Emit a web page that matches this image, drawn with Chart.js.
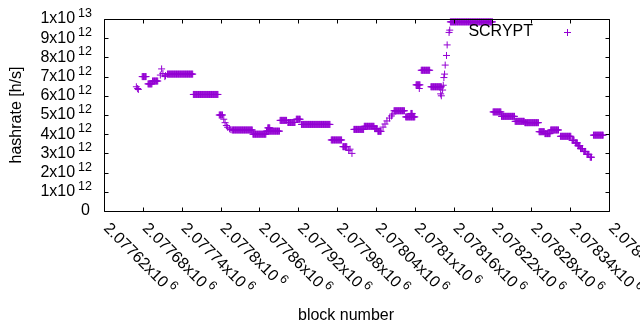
<!DOCTYPE html>
<html>
<head>
<meta charset="utf-8">
<script src="https://cdn.jsdelivr.net/npm/chart.js@4.4.0/dist/chart.umd.min.js"></script>
<style>
    html, body { margin: 0; padding: 0; background: #fff; }
    #wrap { width: 640px; height: 330px; }
</style>
</head>
<body>
<div id="wrap"><canvas id="graph" width="640" height="330"></canvas></div>
<script>
// hashrate: blocks [start .. end] at one value (x10^12 h/s)
const runStart = [2077670, 2077672, 2077673, 2077679, 2077688, 2077695, 2077707, 2077709, 2077711, 2077714,
    2077715, 2077718, 2077758, 2077798, 2077805, 2077807, 2077809, 2077811, 2077814, 2077816,
    2077818, 2077850, 2077871, 2077873, 2077892, 2077904, 2077917, 2077925, 2077971, 2077989,
    2077998, 2078000, 2078003, 2078006, 2078022, 2078038, 2078043, 2078051, 2078054, 2078057,
    2078061, 2078064, 2078066, 2078068, 2078086, 2078094, 2078102, 2078107, 2078110, 2078125,
    2078140, 2078141, 2078143, 2078144, 2078145, 2078146, 2078147, 2078149, 2078150, 2078153,
    2078154, 2078155, 2078221, 2078234, 2078255, 2078270, 2078292, 2078301, 2078310, 2078325,
    2078343, 2078348, 2078352, 2078356, 2078361, 2078366, 2078371, 2078376];
const runEnd = [2077670, 2077672, 2077673, 2077685, 2077694, 2077703, 2077707, 2077709, 2077711, 2077714,
    2077715, 2077757, 2077796, 2077803, 2077805, 2077807, 2077809, 2077811, 2077814, 2077816,
    2077849, 2077870, 2077891, 2077876, 2077902, 2077915, 2077923, 2077969, 2077987, 2077995,
    2077998, 2078000, 2078003, 2078021, 2078037, 2078042, 2078048, 2078051, 2078054, 2078057,
    2078061, 2078064, 2078066, 2078084, 2078100, 2078096, 2078108, 2078107, 2078123, 2078141,
    2078140, 2078141, 2078143, 2078144, 2078145, 2078146, 2078147, 2078149, 2078150, 2078153,
    2078154, 2078220, 2078233, 2078254, 2078269, 2078291, 2078300, 2078309, 2078322, 2078341,
    2078346, 2078351, 2078355, 2078359, 2078364, 2078369, 2078373, 2078391];
const runRate = [6.47, 6.38, 6.33, 7.0, 6.62, 6.77, 7.08, 7.4, 7.16, 7.0,
    7.05, 7.13, 6.07, 5.0, 4.78, 4.6, 4.45, 4.36, 4.28, 4.24,
    4.22, 4.0, 4.16, 4.33, 4.72, 4.61, 4.78, 4.51, 3.70, 3.35,
    3.15, 3.22, 3.0, 4.25, 4.41, 4.29, 4.15, 4.37, 4.53, 4.69,
    4.84, 4.95, 5.05, 5.22, 4.9, 5.08, 6.57, 6.38, 7.33, 6.47,
    6.1, 6.0, 6.3, 6.55, 6.95, 7.13, 7.6, 8.1, 8.65, 9.3,
    9.42, 9.85, 5.16, 4.93, 4.67, 4.6, 4.13, 4.03, 4.22, 3.89,
    3.68, 3.55, 3.4, 3.25, 3.1, 2.95, 2.8, 3.95];

const xTicks = [2077620, 2077680, 2077740, 2077800, 2077860, 2077920, 2077980,
    2078040, 2078100, 2078160, 2078220, 2078280, 2078340, 2078400];
const xTickLabels = ['2.07762', '2.07768', '2.07774', '2.0778', '2.07786', '2.07792', '2.07798',
    '2.07804', '2.0781', '2.07816', '2.07822', '2.07828', '2.07834', '2.0784'];
const yTicks = [0, 1e12, 2e12, 3e12, 4e12, 5e12, 6e12, 7e12, 8e12, 9e12, 1e13];
const yTickLabels = ['0', '1x10', '2x10', '3x10', '4x10', '5x10', '6x10', '7x10', '8x10', '9x10', '1x10'];
const yTickExp = ['', '12', '12', '12', '12', '12', '12', '12', '12', '12', '13'];

const X_MIN = 2077620, X_MAX = 2078400;
const VIOLET = '#9400d3';
const FONT = '"Liberation Sans", Arial, sans-serif';
const MAIN = '16px ' + FONT, SUP = '12.5px ' + FONT;
const TICK = 4;

let points = [];
for (let i = 0; i < runStart.length; i++) {
    for (let b = runStart[i]; b <= runEnd[i]; b++) {
        points.push({ x: b, y: runRate[i] * 1e12 });
    }
}

function drawPlus(ctx, x, y, r) {
    ctx.beginPath();
    ctx.moveTo(x - r, y); ctx.lineTo(x + r, y);
    ctx.moveTo(x, y - r); ctx.lineTo(x, y + r);
    ctx.stroke();
}

const gnuplotFrame = {
    id: 'gnuplotFrame',
    afterDraw(chart) {
        const ctx = chart.ctx;
        const xs = chart.scales.x, ys = chart.scales.y;
        const a = chart.chartArea;
        const L = Math.round(a.left) + 0.5, R = Math.round(a.right) + 0.5;
        const T = Math.round(a.top) + 0.5, B = Math.round(a.bottom) + 0.5;
        ctx.save();
        ctx.strokeStyle = '#000';
        ctx.lineWidth = 1;
        ctx.beginPath();
        ctx.rect(L, T, R - L, B - T);
        yTicks.forEach(v => {
            const py = Math.round(ys.getPixelForValue(v)) + 0.5;
            ctx.moveTo(L, py); ctx.lineTo(L + TICK, py);
            ctx.moveTo(R, py); ctx.lineTo(R - TICK, py);
        });
        xTicks.forEach(v => {
            const px = Math.round(xs.getPixelForValue(v)) + 0.5;
            ctx.moveTo(px, B); ctx.lineTo(px, B - TICK);
            ctx.moveTo(px, T); ctx.lineTo(px, T + TICK);
        });
        ctx.stroke();

        ctx.fillStyle = '#000';
        ctx.textBaseline = 'middle';

        // y tick labels, gnuplot style "Nx10^{12}"
        yTicks.forEach((v, i) => {
            const py = ys.getPixelForValue(v);
            ctx.textAlign = 'right';
            if (!yTickExp[i]) {
                ctx.font = MAIN;
                ctx.fillText(yTickLabels[i], 90, py);
                return;
            }
            ctx.font = SUP;
            const supW = ctx.measureText(yTickExp[i]).width;
            ctx.fillText(yTickExp[i], 92, py - 5.5);
            ctx.font = MAIN;
            ctx.fillText(yTickLabels[i], 92 - supW - 3, py);
        });

        // x tick labels, rotated by -45 deg
        xTicks.forEach((v, i) => {
            const px = xs.getPixelForValue(v);
            ctx.save();
            ctx.translate(px + 2, 226);
            ctx.rotate(Math.PI / 4);
            ctx.textAlign = 'left';
            ctx.font = MAIN;
            const txt = xTickLabels[i] + 'x10';
            const w = ctx.measureText(txt).width;
            ctx.fillText(txt, 0, 0);
            ctx.font = SUP;
            ctx.fillText('6', w + 3, -5.5);
            ctx.restore();
        });

        // axis titles
        ctx.font = MAIN;
        ctx.textAlign = 'center';
        ctx.fillText('block number', 346, 316);
        ctx.save();
        ctx.translate(17, 115);
        ctx.rotate(-Math.PI / 2);
        ctx.fillText('hashrate [h/s]', 0, 0);
        ctx.restore();

        // key
        ctx.textAlign = 'right';
        ctx.fillText('SCRYPT', 533, 32);
        ctx.strokeStyle = VIOLET;
        drawPlus(ctx, 567.5, 32.5, 3.5);
        ctx.restore();
    }
};

const ctx = document.getElementById('graph').getContext('2d');
const chart = new Chart(ctx, {
    type: 'scatter',
    data: {
        datasets: [{
            label: 'SCRYPT',
            data: points,
            pointStyle: 'cross',
            pointRadius: 3.5,
            pointHoverRadius: 3.5,
            pointBorderWidth: 1,
            pointBorderColor: VIOLET,
            pointBackgroundColor: VIOLET,
            borderColor: VIOLET,
            showLine: false,
            clip: false
        }]
    },
    options: {
        responsive: false,
        animation: false,
        events: [],
        layout: { padding: { top: 19, right: 31, left: 0, bottom: 0 } },
        plugins: {
            legend: { display: false },
            tooltip: { enabled: false }
        },
        scales: {
            x: {
                type: 'linear',
                min: X_MIN,
                max: X_MAX,
                grid: { display: false },
                border: { display: false },
                ticks: { display: false },
                afterFit: s => { s.height = 119; }
            },
            y: {
                min: 0,
                max: 1e13,
                grid: { display: false },
                border: { display: false },
                ticks: { display: false },
                afterFit: s => { s.width = 104; }
            }
        }
    },
    plugins: [gnuplotFrame]
});
</script>
</body>
</html>
